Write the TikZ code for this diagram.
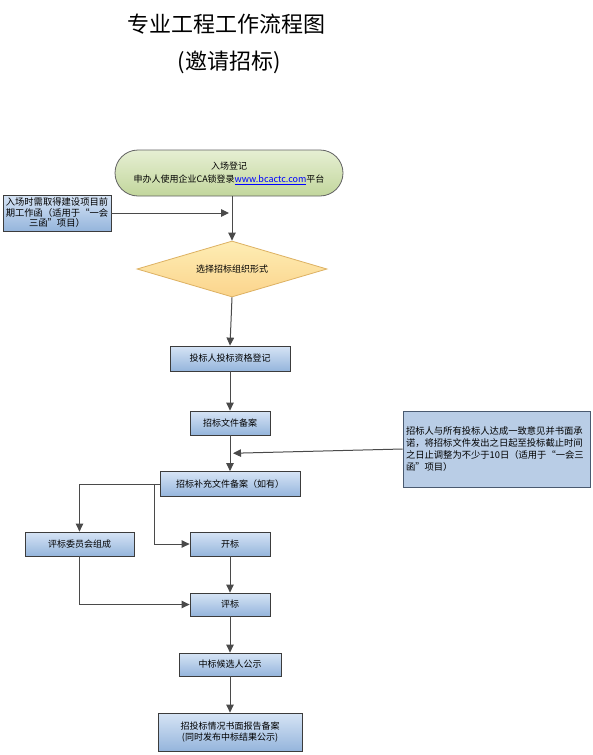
\documentclass[tikz,border=0pt]{standalone}
\usepackage{fontspec}
\setmainfont{Noto Sans CJK SC}
\usetikzlibrary{shapes.geometric,arrows.meta,calc}
\definecolor{boxtop}{HTML}{D6E4F5}
\definecolor{boxbot}{HTML}{95B5DC}
\definecolor{boxline}{HTML}{3C3C3C}
\definecolor{grntop}{HTML}{E6EFD3}
\definecolor{grnbot}{HTML}{C2D69C}
\definecolor{diatop}{HTML}{FEEDB4}
\definecolor{diabot}{HTML}{FBD48C}
\definecolor{dialine}{HTML}{DDB162}
\definecolor{notefill}{HTML}{B9CDE6}
\definecolor{noteline}{HTML}{4A5A70}
\definecolor{conn}{HTML}{4A4A4A}
\definecolor{linkblue}{HTML}{0000FF}
\tikzset{
  stepbox/.style={draw=boxline, line width=0.8pt, top color=boxtop, bottom color=boxbot,
    inner sep=0pt, font=\fontsize{9}{11}\selectfont, align=center},
  termbox/.style={draw=boxline!80, line width=0.8pt, top color=grntop, bottom color=grnbot,
    rounded corners=23pt, inner sep=0pt, font=\fontsize{9}{13}\selectfont, align=center,
    minimum width=228pt, minimum height=46pt},
  decbox/.style={diamond, draw=dialine, line width=0.8pt, top color=diatop, bottom color=diabot,
    inner sep=0pt, aspect=3.39, minimum width=190pt, minimum height=56pt,
    font=\fontsize{9}{11}\selectfont},
  notebox/.style={draw=boxline, line width=0.8pt, inner sep=0pt},
  arr/.style={draw=conn, line width=1pt, -{Triangle[length=8pt,width=7.5pt]}},
  titletext/.style={font=\fontsize{22}{26}\selectfont, inner sep=0pt}
}
\begin{document}
\begin{tikzpicture}[x=1pt,y=-1pt]
\useasboundingbox (0,0) rectangle (593,755);
\fill[white] (0,0) rectangle (593,755);

\node[titletext] (t1) at (226,24) {专业工程工作流程图};
\node[titletext] (t2) at (229,62) {(邀请招标)};

\node[termbox] (start) at (229,173) {入场登记\\申办人使用企业CA锁登录\textcolor{linkblue}{\underline{www.bcactc.com}}平台};

\node[notebox, top color=boxtop, bottom color=boxbot, minimum width=108pt, minimum height=36pt,
  align=center, font=\fontsize{9.3}{10.5}\selectfont] (lnote) at (57,213)
  {入场时需取得建设项目前\\期工作函（适用于“一会\\三函”项目）};

\node[decbox] (dec) at (232,269) {选择招标组织形式};

\node[stepbox, minimum width=120pt, minimum height=25pt] (qual) at (230,358.5) {投标人投标资格登记};
\node[stepbox, minimum width=80pt, minimum height=24pt] (file) at (230,423) {招标文件备案};
\node[stepbox, minimum width=140pt, minimum height=25pt] (supp) at (230,484) {招标补充文件备案（如有）};

\node[notebox, draw=noteline, fill=notefill, minimum width=187pt, minimum height=76pt,
  text width=181pt, align=left, font=\fontsize{9.3}{11.8}\selectfont] (rnote) at (496.5,449)
  {招标人与所有投标人达成一致意见并书面承\\诺，将招标文件发出之日起至投标截止时间\\之日止调整为不少于10日（适用于“一会三\\函”项目）};

\node[stepbox, minimum width=109pt, minimum height=24pt] (comm) at (79.5,544) {评标委员会组成};
\node[stepbox, minimum width=80pt, minimum height=24pt] (open) at (230,544) {开标};
\node[stepbox, minimum width=80pt, minimum height=23pt] (eval) at (230,604.5) {评标};
\node[stepbox, minimum width=102pt, minimum height=23pt] (cand) at (230,664.5) {中标候选人公示};
\node[stepbox, minimum width=144pt, minimum height=38pt] (rep) at (230,732) {招投标情况书面报告备案\\(同时发布中标结果公示)};

% connectors
\draw[arr] (start.south -| dec.north) -- (dec.north);
\coordinate (lin) at ($(lnote.east -| dec.north)+(-3,0)$);
\draw[arr] (lnote.east) -- (lin);
\draw[arr] (dec.south) -- (qual.north);
\draw[arr] (qual.south) -- (file.north);
\draw[arr] (file.south) -- (supp.north);
\coordinate (rin) at ($(file.south)!0.5!(supp.north)+(3,0)$);
\draw[arr] (rnote.west) -- (rin);
\draw[arr] (supp.west) -| (comm.north);
\coordinate (br) at ($(supp.west)+(-5,0)$);
\draw[arr] (br) |- (open.west);
\draw[arr] (comm.south) |- (eval.west);
\draw[arr] (open.south) -- (eval.north);
\draw[arr] (eval.south) -- (cand.north);
\draw[arr] (cand.south) -- (rep.north);
\end{tikzpicture}
\end{document}
